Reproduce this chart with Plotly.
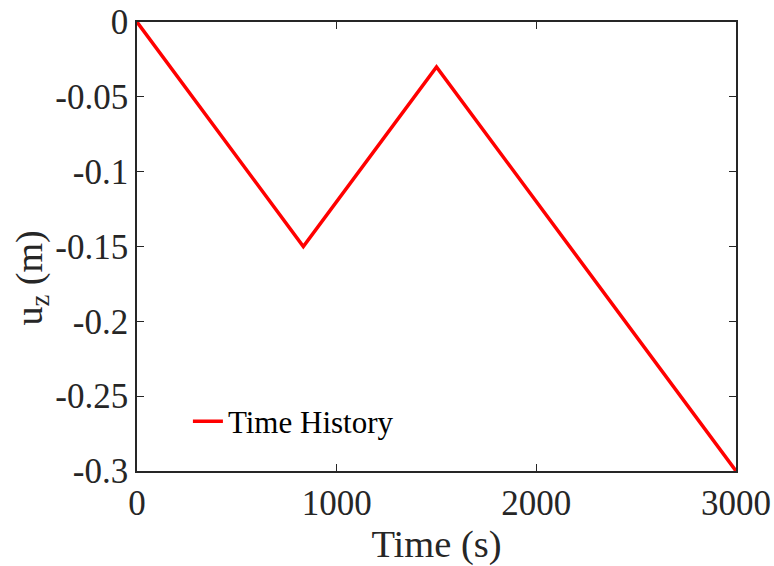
import plotly.graph_objects as go

time_s = [0, 833, 1500, 3000]
uz_m = [0, -0.15, -0.03, -0.3]
series_name = "Time History"
x_ticks = [0, 1000, 2000, 3000]
x_ticklabels = ["0", "1000", "2000", "3000"]
y_ticks = [0, -0.05, -0.1, -0.15, -0.2, -0.25, -0.3]
y_ticklabels = ["0", "-0.05", "-0.1", "-0.15", "-0.2", "-0.25", "-0.3"]

font = "Liberation Serif, Times New Roman, serif"
ink = "#262626"

fig = go.Figure()
fig.add_trace(go.Scatter(x=time_s, y=uz_m, mode="lines", name=series_name,
                         line=dict(color="#ff0000", width=3.5)))

axis_common = dict(showgrid=False, zeroline=False, showline=True, linecolor=ink,
                   linewidth=1.5, mirror="ticks", ticks="inside", ticklen=7,
                   tickwidth=1, tickcolor=ink, automargin=False,
                   tickfont=dict(family=font, size=35, color=ink))

fig.update_layout(
    width=774, height=566,
    margin=dict(l=137, r=38, t=22, b=95),
    paper_bgcolor="white", plot_bgcolor="white",
    xaxis=dict(range=[0, 3000], tickvals=x_ticks, ticktext=x_ticklabels,
               title=dict(text="Time (s)", font=dict(family=font, size=38.5, color=ink)),
               **axis_common),
    yaxis=dict(range=[-0.3, 0], tickvals=y_ticks, ticktext=y_ticklabels,
               **axis_common),
    showlegend=True,
    legend=dict(x=0.085, y=0.05, xanchor="left", yanchor="bottom",
                bgcolor="rgba(255,255,255,0)", borderwidth=0,
                font=dict(family=font, size=31, color="#000000")),
    annotations=[dict(text="u<sub>z</sub> (m)", textangle=-90, xref="paper", yref="paper",
                      x=0, y=0.5, xanchor="center", yanchor="middle",
                      xshift=-106, yshift=-32, showarrow=False,
                      font=dict(family=font, size=38, color=ink))],
)

fig.write_html("out.html")
